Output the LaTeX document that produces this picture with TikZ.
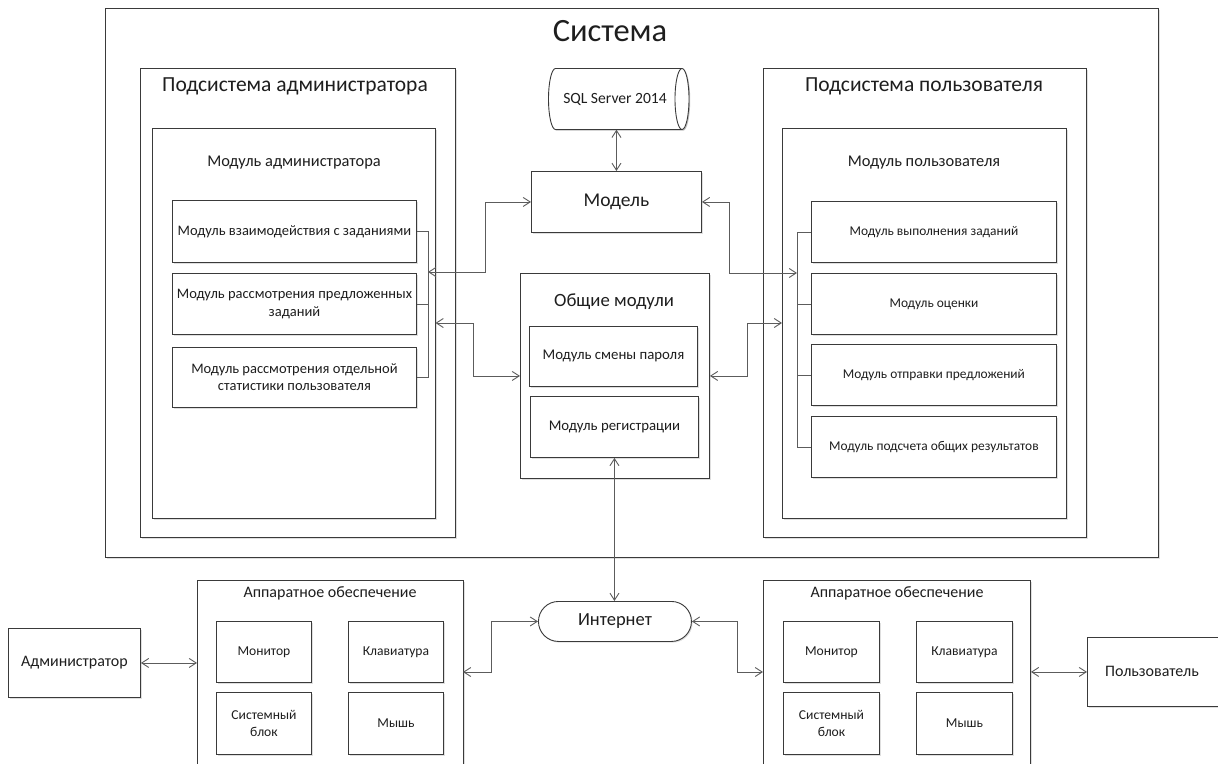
\documentclass[tikz,border=0pt]{standalone}
\usepackage{fontspec}
\setmainfont{Carlito}
\usetikzlibrary{arrows.meta,shadows}
\definecolor{edgec}{HTML}{3A3A3A}
\definecolor{wirec}{HTML}{5C5C5C}
\definecolor{inkc}{HTML}{1E1E1E}
\newcommand\fsz[1]{\fontsize{#1}{1.2\dimexpr#1pt\relax}\selectfont}
\begin{document}
\begin{tikzpicture}[x=1pt,y=-1pt,
  every node/.style={text=inkc},
  shad/.style={drop shadow={shadow xshift=1.2pt,shadow yshift=-1.2pt,opacity=0.25}},
  box/.style={draw=edgec,fill=white,line width=0.9pt,align=center,inner sep=2pt,anchor=north west,shad},
  title/.style={inner sep=0pt,anchor=center},
  wire/.style={draw=wirec,line width=0.9pt},
  dbl/.style={wire,{Straight Barb[length=7pt,width=9pt]}-{Straight Barb[length=7pt,width=9pt]}},
]
\useasboundingbox (0,0) rectangle (1218,763);

% ---- system frame and subsystems
\node[box,minimum width=1053pt,minimum height=549pt] (sys) at (105,8) {};
\node[title,font=\fsz{32.5}] (systitle) at (610,31) {Система};

\node[box,minimum width=315pt,minimum height=469pt] (subA) at (140,68) {};
\node[title,font=\fsz{21.5}] (subAt) at (295,86) {Подсистема администратора};
\node[box,minimum width=283pt,minimum height=390pt] (modA) at (152,128) {};
\node[title,font=\fsz{16.4}] (modAt) at (294,163) {Модуль администратора};

\node[box,minimum width=323pt,minimum height=469pt] (subU) at (763,68) {};
\node[title,font=\fsz{21.5}] (subUt) at (924,86) {Подсистема пользователя};
\node[box,minimum width=284pt,minimum height=390pt] (modU) at (782,128) {};
\node[title,font=\fsz{16.4}] (modUt) at (924,163) {Модуль пользователя};

% ---- administrator modules
\begin{scope}[every node/.append style={font=\fsz{14.5}}]
\node[box,minimum width=244pt,minimum height=62pt] (am1) at (172,200) {Модуль взаимодействия с заданиями};
\node[box,minimum width=244pt,minimum height=61pt] (am2) at (172,273) {Модуль рассмотрения предложенных\\заданий};
\node[box,minimum width=244pt,minimum height=60pt] (am3) at (172,347) {Модуль рассмотрения отдельной\\статистики пользователя};
\end{scope}

% ---- user modules
\begin{scope}[every node/.append style={font=\fsz{13.4}}]
\node[box,minimum width=245pt,minimum height=61pt] (um1) at (811,201) {Модуль выполнения заданий};
\node[box,minimum width=245pt,minimum height=61pt] (um2) at (811,273) {Модуль оценки};
\node[box,minimum width=245pt,minimum height=61pt] (um3) at (811,344) {Модуль отправки предложений};
\node[box,minimum width=245pt,minimum height=61pt] (um4) at (811,416) {Модуль подсчета общих результатов};
\end{scope}

% ---- database: horizontal cylinder, end face on the right
\fill[black,opacity=0.25,shift={(1.2pt,-1.2pt)}]
  (555.5,68.5) -- (682,68.5) arc[start angle=90,end angle=-90,x radius=7pt,y radius=30.5pt]
  -- (555.5,129.5) arc[start angle=270,end angle=90,x radius=7pt,y radius=30.5pt] -- cycle;
\draw[draw=edgec,fill=white,line width=0.9pt]
  (555.5,68.5) -- (682,68.5) arc[start angle=90,end angle=-90,x radius=7pt,y radius=30.5pt]
  -- (555.5,129.5) arc[start angle=270,end angle=90,x radius=7pt,y radius=30.5pt] -- cycle;
\draw[draw=edgec,line width=0.9pt] (682,68.5) arc[start angle=90,end angle=270,x radius=7pt,y radius=30.5pt];
\node[minimum width=140pt,minimum height=61pt,inner sep=0pt,font=\fsz{15.6}] (sql) at (615,99) {SQL Server 2014};

% ---- model
\node[box,minimum width=170pt,minimum height=61pt,font=\fsz{19.5}] (model) at (531,171) {Модель};

% ---- common modules
\node[box,minimum width=189pt,minimum height=205pt] (cm) at (520,273) {};
\node[title,font=\fsz{18.7}] (cmt) at (614,302) {Общие модули};
\node[box,minimum width=168pt,minimum height=60pt,font=\fsz{14.8}] (cp) at (529,326) {Модуль смены пароля};
\node[box,minimum width=168pt,minimum height=61pt,font=\fsz{14.8}] (reg) at (530,396) {Модуль регистрации};

% ---- internet
\node[box,rounded corners=20pt,minimum width=153pt,minimum height=40pt,font=\fsz{18.5}] (inet) at (538,601) {Интернет};

% ---- hardware, administrator side
\node[box,minimum width=266pt,minimum height=200pt] (hwA) at (197,580) {};
\node[title,font=\fsz{16}] (hwAt) at (330,593) {Аппаратное обеспечение};
\begin{scope}[every node/.append style={font=\fsz{13.6}}]
\node[box,minimum width=95pt,minimum height=61pt] (monA) at (216,621) {Монитор};
\node[box,minimum width=95pt,minimum height=61pt] (kbdA) at (348,621) {Клавиатура};
\node[box,minimum width=95pt,minimum height=62pt] (pcA) at (216,692) {Системный\\блок};
\node[box,minimum width=95pt,minimum height=62pt] (msA) at (348,692) {Мышь};
\end{scope}
\node[box,minimum width=132pt,minimum height=69pt,font=\fsz{16}] (admin) at (8,628) {Администратор};

% ---- hardware, user side
\node[box,minimum width=267pt,minimum height=200pt] (hwU) at (763,580) {};
\node[title,font=\fsz{16}] (hwUt) at (897,593) {Аппаратное обеспечение};
\begin{scope}[every node/.append style={font=\fsz{13.6}}]
\node[box,minimum width=96pt,minimum height=61pt] (monU) at (783,621) {Монитор};
\node[box,minimum width=96pt,minimum height=61pt] (kbdU) at (916,621) {Клавиатура};
\node[box,minimum width=96pt,minimum height=62pt] (pcU) at (783,692) {Системный\\блок};
\node[box,minimum width=96pt,minimum height=62pt] (msU) at (916,692) {Мышь};
\end{scope}
\node[box,minimum width=150pt,minimum height=69pt] (user) at (1087,637) {};
\node[title,font=\fsz{16}] (usert) at (1152,671) {Пользователь};

% ---- bus lines
\coordinate (abus) at (428,0);
\draw[wire] (am1.east) -| (abus |- am3.east) -- (am3.east);
\draw[wire] (am2.east) -- (am2.east -| abus);
\coordinate (ubus) at (797,0);
\draw[wire] (um1.west) -| (ubus |- um4.west) -- (um4.west);
\draw[wire] (um2.west) -- (um2.west -| ubus);
\draw[wire] (um3.west) -- (um3.west -| ubus);

% ---- connectors inside the system
\draw[dbl] (model.north |- sql.south) -- (model.north);
\coordinate (aj) at (428,272);
\coordinate (ak) at (485,0);
\draw[dbl] (aj) -- (aj -| ak) |- (model.west);
\coordinate (aj2) at (435.5,323);
\coordinate (ac) at (473,0);
\draw[dbl] (aj2) -- (aj2 -| ac) |- (cm.west);
\coordinate (uj) at (797,273);
\coordinate (uk) at (729,0);
\draw[dbl] (model.east) -- (model.east -| uk) |- (uj);
\coordinate (uj2) at (782,323);
\coordinate (uk2) at (747,0);
\draw[dbl] (cm.east) -- (cm.east -| uk2) |- (uj2);

% ---- network and hardware connectors
\draw[dbl] (reg.south) -- (reg.south |- inet.north);
\coordinate (hj) at (463,672);
\coordinate (hk) at (491,0);
\draw[dbl] (hj) -- (hj -| hk) |- (inet.west);
\coordinate (hj2) at (763,672);
\coordinate (hk2) at (737,0);
\draw[dbl] (inet.east) -- (inet.east -| hk2) |- (hj2);
\draw[dbl] (admin.east) -- (admin.east -| hwA.west);
\draw[dbl] (hwU.east |- user.west) -- (user.west);
\end{tikzpicture}
\end{document}
